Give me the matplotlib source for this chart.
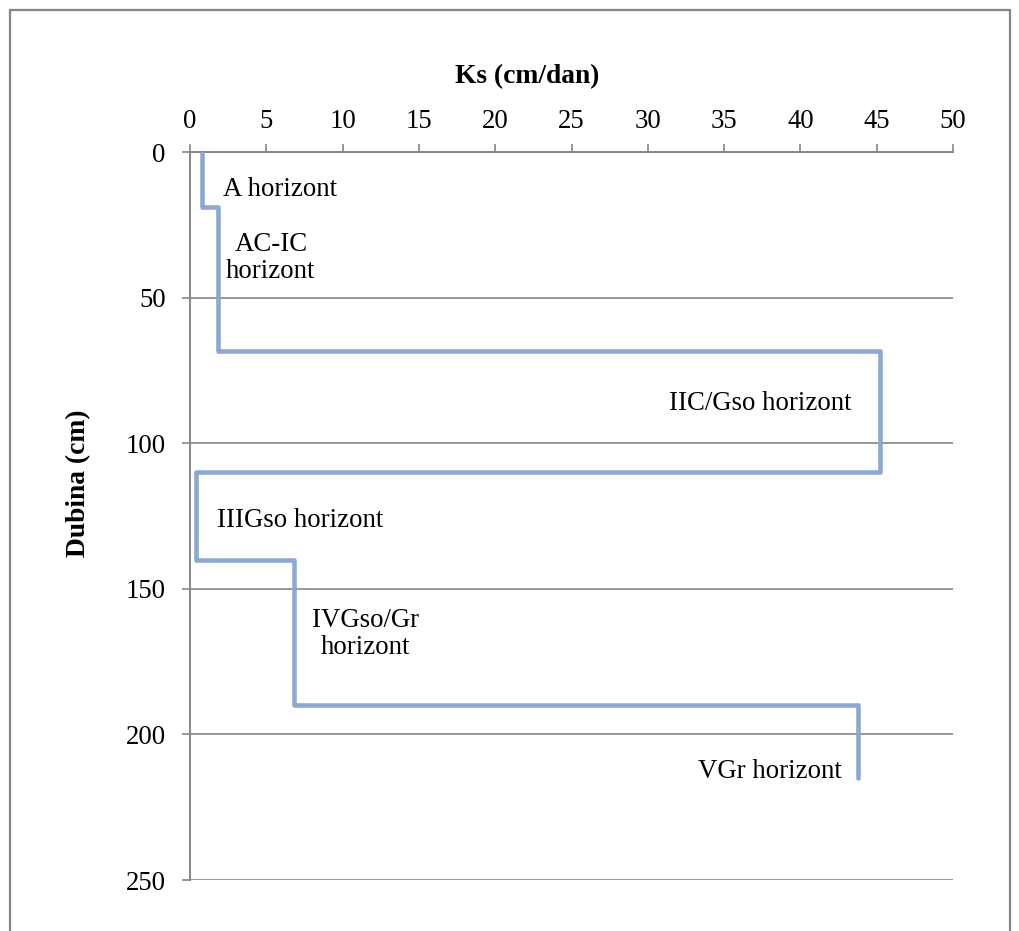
import matplotlib.pyplot as plt
import numpy as np
from matplotlib.patches import Rectangle

# Horizon boundaries (cm) and saturated hydraulic conductivity per horizon
depth_bounds = [0, 19, 68.5, 110, 140, 190, 215]
ks_values = [0.8, 1.85, 45.2, 0.4, 6.8, 43.8]

horizon_labels = ['A horizont', 'AC-IC\nhorizont', 'IIC/Gso horizont',
                  'IIIGso horizont', 'IVGso/Gr\nhorizont', 'VGr horizont']
label_x = [5.9, 5.3, 37.4, 7.25, 11.5, 38.0]
label_y = [13, 36.4, 86.2, 126.4, 165.5, 212.6]

x_ticks = list(range(0, 51, 5))
y_ticks = list(range(0, 251, 50))

plt.rcParams['font.family'] = ['Liberation Serif', 'DejaVu Serif']
grey = '#868686'
fs = 19.3

fig = plt.figure(figsize=(10.19, 9.31), dpi=100)
ax = fig.add_axes([190 / 1019, 1 - 880 / 931, (953 - 190) / 1019, (880 - 152) / 931])

# vertical segment for each horizon, horizontal jumps at boundaries
xs = np.repeat(ks_values, 2)
ys = np.column_stack([depth_bounds[:-1], depth_bounds[1:]]).ravel()
ax.plot(xs, ys, color='#8EA8CF', lw=3.3, solid_joinstyle='round',
        solid_capstyle='round', zorder=3)

for txt, x, y in zip(horizon_labels, label_x, label_y):
    ax.text(x, y, txt, ha='center', va='center', fontsize=fs,
            linespacing=1.1, zorder=4)

ax.set_xlim(0, 50)
ax.set_ylim(250, 0)
ax.set_xticks(x_ticks)
ax.set_yticks(y_ticks)
ax.xaxis.tick_top()
ax.tick_params(axis='both', direction='out', length=6, width=1.2, color=grey,
               labelsize=fs)
ax.tick_params(axis='x', pad=7)
ax.tick_params(axis='y', pad=11.5)
ax.grid(axis='y', color=grey, lw=1.2)
ax.set_axisbelow(True)
for side in ['right', 'bottom']:
    ax.spines[side].set_visible(False)
for side in ['left', 'top']:
    ax.spines[side].set_color(grey)
    ax.spines[side].set_linewidth(1.4)

# axis titles placed where the reference has them
ax.text(0.4417, 1.0948, 'Ks (cm/dan)', transform=ax.transAxes, ha='center',
        va='baseline', fontsize=19.8, fontweight='bold')
ax.set_ylabel('Dubina (cm)', fontsize=19.8, fontweight='bold')
ax.yaxis.set_label_coords(-0.1297, 0.545)

fig.patches.append(Rectangle((10 / 1019, -0.1), 1000 / 1019, 1.1 - 10 / 931,
                             transform=fig.transFigure, fill=False,
                             edgecolor=grey, lw=1.6))

fig.savefig('out.png', dpi=100)
